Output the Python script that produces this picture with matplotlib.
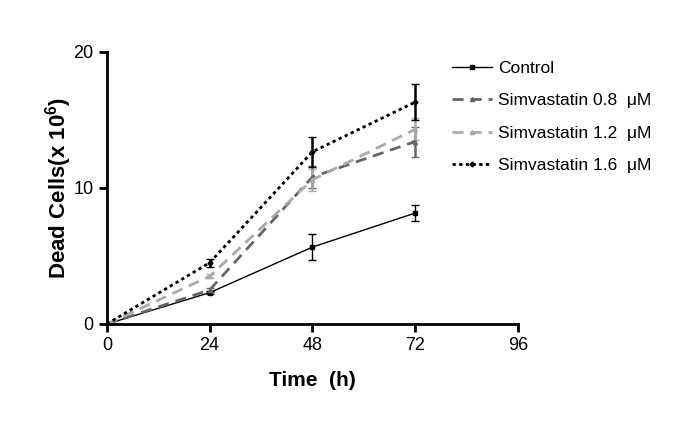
import numpy as np
import matplotlib.pyplot as plt
from matplotlib.lines import Line2D

plt.rcParams['font.family'] = ['Liberation Sans', 'DejaVu Sans']
plt.rcParams['mathtext.fontset'] = 'custom'
plt.rcParams['mathtext.rm'] = 'Liberation Sans'
plt.rcParams['mathtext.bf'] = 'Liberation Sans:bold'

time = [0, 24, 48, 72]
labels = ['Control', 'Simvastatin 0.8  \u03bcM', 'Simvastatin 1.2  \u03bcM', 'Simvastatin 1.6  \u03bcM']
control = [0, 2.3, 5.65, 8.15]
control_err = [0, 0.1, 0.95, 0.6]
simva08 = [0, 2.5, 10.8, 13.4]
simva08_err = [0, 0.15, 0.8, 1.1]
simva12 = [0, 3.5, 10.6, 14.3]
simva12_err = [0, 0.15, 0.8, 0.8]
simva16 = [0, 4.5, 12.65, 16.3]
simva16_err = [0, 0.3, 1.1, 1.3]

fig = plt.figure(figsize=(6.85, 4.28), dpi=100)
ax = fig.add_axes([0.156, 0.243, 0.6, 0.636])

styles = [
    dict(color='black', lw=1, ls='-', marker='s', ms=3, elinewidth=1),
    dict(color='#666666', lw=2, ls=(0, (4, 2.5)), marker='^', ms=3, elinewidth=1.8),
    dict(color='#aaaaaa', lw=2, ls=(0, (4, 2.5)), marker='^', ms=3, elinewidth=1.8),
    dict(color='black', lw=2, ls=(0, (1.2, 1.2)), marker='D', ms=2.5, elinewidth=1.8),
]
series = [(control, control_err), (simva08, simva08_err), (simva12, simva12_err), (simva16, simva16_err)]

handles = []
for (vals, err), st, lab in zip(series, styles, labels):
    ax.errorbar(time, vals, yerr=err, capsize=3, **st)
    handles.append(Line2D([], [], color=st['color'], lw=st['lw'], ls=st['ls'],
                          marker=st['marker'], ms=st['ms']))

ax.set_xlim(0, 96)
ax.set_ylim(0, 20)
ax.set_xticks([0, 24, 48, 72, 96])
ax.set_yticks([0, 10, 20])
for s in ['top', 'right']:
    ax.spines[s].set_visible(False)
for s in ['left', 'bottom']:
    ax.spines[s].set_linewidth(2)
ax.tick_params(width=2, length=6, labelsize=13, direction='out')
ax.set_xlabel('Time  (h)', fontsize=15, fontweight='bold', labelpad=12)
ax.set_ylabel(r'Dead Cells(x 10$^\mathbf{6}$)', fontsize=16, fontweight='bold', labelpad=0)

fig.legend(handles, labels, loc='upper left', bbox_to_anchor=(0.66, 0.858), frameon=False,
           fontsize=12.5, handlelength=2.3, handletextpad=0.35, labelspacing=1.0,
           borderpad=0, borderaxespad=0)

fig.savefig('out.png', dpi=100)
